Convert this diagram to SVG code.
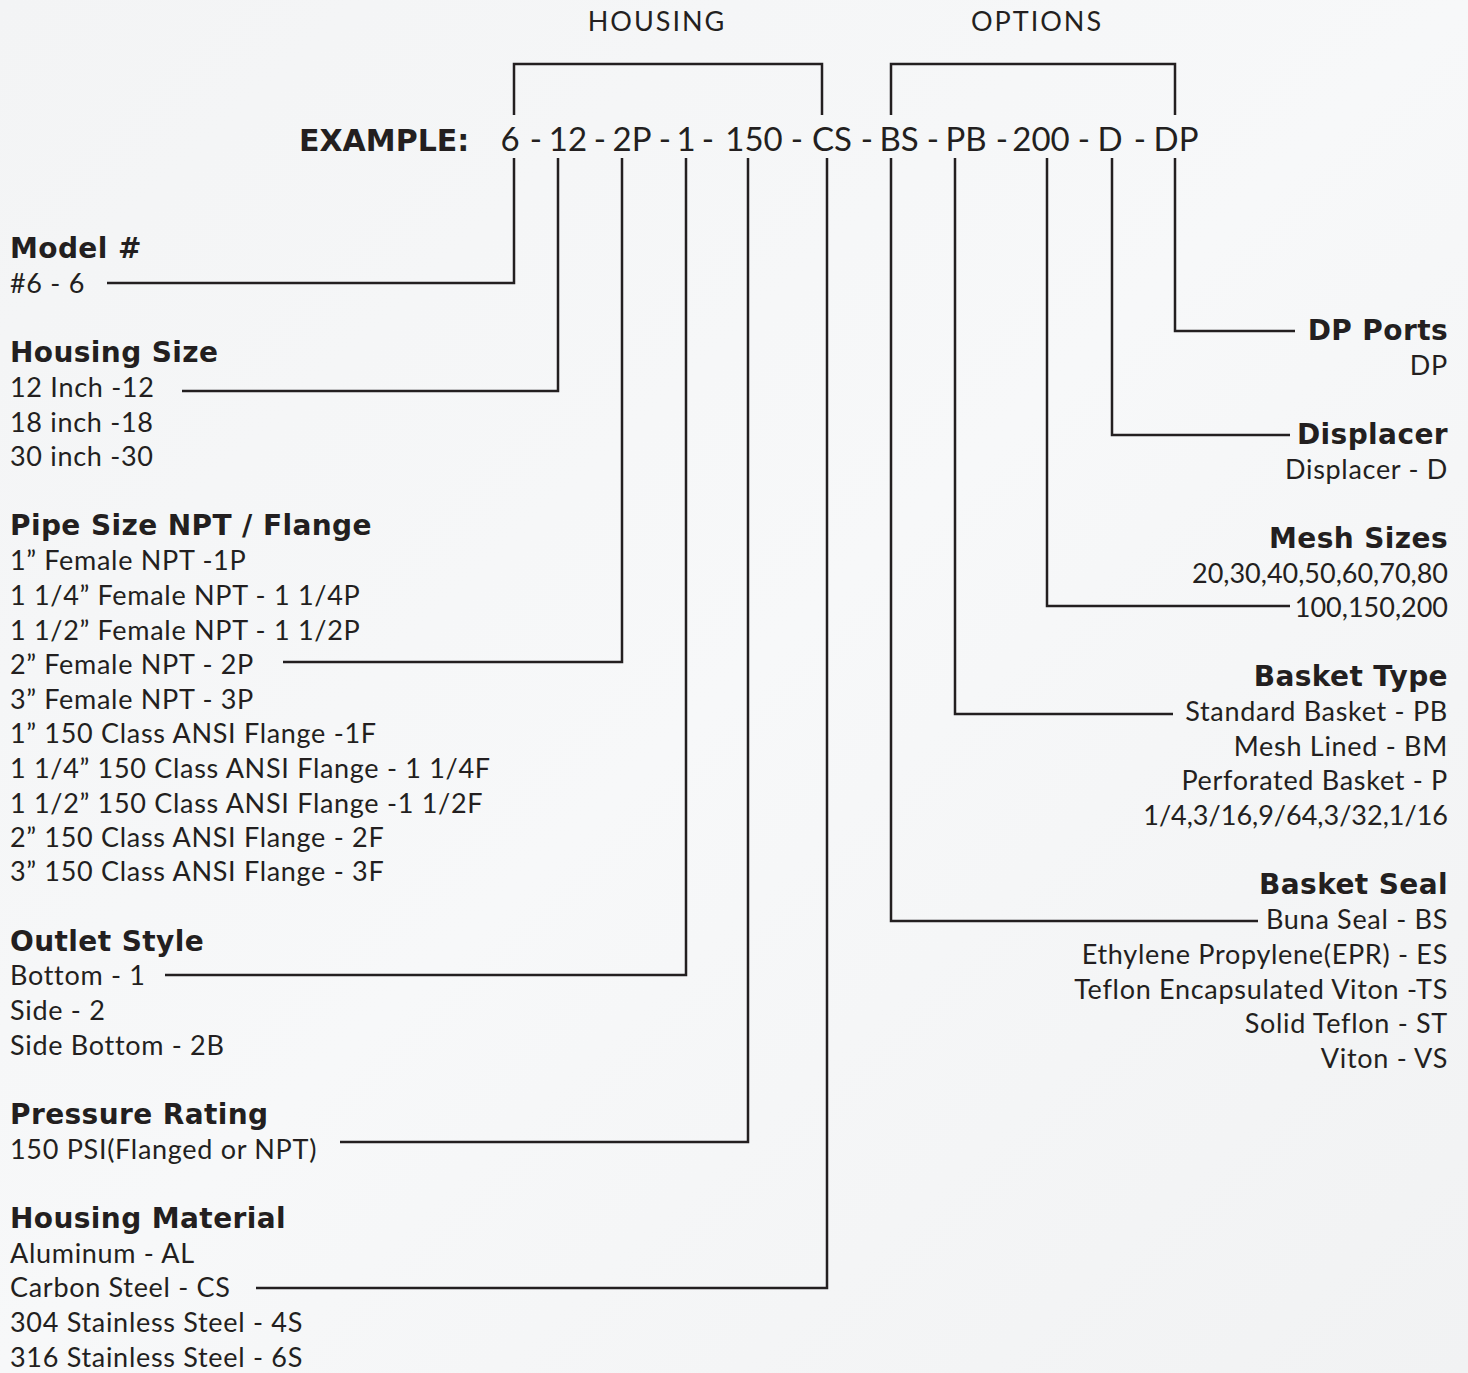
<svg xmlns="http://www.w3.org/2000/svg" width="1468" height="1373" viewBox="0 0 1468 1373">
<defs>
<style>
text{font-family:Lato,"Open Sans","Liberation Sans",sans-serif;fill:#231f20;}
.h{font-family:"DejaVu Sans","Liberation Sans",sans-serif;font-size:28px;font-weight:bold;letter-spacing:0.4px;}
.b{font-size:27px;letter-spacing:0.7px;}
.n{letter-spacing:0px;}
.r{text-anchor:end;}
.t{font-size:27px;letter-spacing:2px;text-anchor:middle;}
.ln{fill:none;stroke:#231f20;stroke-width:2.5;}
</style>
<linearGradient id="bg" x1="0" y1="0" x2="1" y2="1">
<stop offset="0" stop-color="#f3f4f5"/>
<stop offset="0.5" stop-color="#f7f8f9"/>
<stop offset="1" stop-color="#f1f2f3"/>
</linearGradient>
</defs>
<rect width="1468" height="1373" fill="url(#bg)"/>

<g id="title">
<text class="t" x="657" y="31">HOUSING</text>
<text class="t" x="1037" y="31">OPTIONS</text>
<text x="299" y="151" style="font-family:'DejaVu Sans','Liberation Sans',sans-serif;font-size:30px;font-weight:bold">EXAMPLE:</text>
<text style="font-size:33px;text-anchor:middle"><tspan x="510" y="151">6</tspan><tspan x="536" y="151">-</tspan><tspan x="568" y="151">12</tspan><tspan x="600" y="151">-</tspan><tspan x="632" y="151">2P</tspan><tspan x="665" y="151">-</tspan><tspan x="686" y="151">1</tspan><tspan x="708" y="151">-</tspan><tspan x="754" y="151">150</tspan><tspan x="797" y="151">-</tspan><tspan x="832" y="151">CS</tspan><tspan x="867" y="151">-</tspan><tspan x="899" y="151">BS</tspan><tspan x="933" y="151">-</tspan><tspan x="966" y="151">PB</tspan><tspan x="1002" y="151">-</tspan><tspan x="1041" y="151">200</tspan><tspan x="1084" y="151">-</tspan><tspan x="1110" y="151">D</tspan><tspan x="1140" y="151">-</tspan><tspan x="1176" y="151">DP</tspan></text>
</g>

<g id="connectors">
<path class="ln" d="M514 115V64H822V115"/>
<path class="ln" d="M891 115V64H1175V115"/>
<path class="ln" d="M514 158V283H107"/>
<path class="ln" d="M558 158V391H182"/>
<path class="ln" d="M622 158V662H283"/>
<path class="ln" d="M686 158V975H165"/>
<path class="ln" d="M748 158V1142H340"/>
<path class="ln" d="M827 158V1288H256"/>
<path class="ln" d="M891 158V921H1258"/>
<path class="ln" d="M955 158V714H1173"/>
<path class="ln" d="M1047 158V606H1290"/>
<path class="ln" d="M1112 158V435H1290"/>
<path class="ln" d="M1175 158V331H1295"/>
</g>

<g id="model">
<text class="h" x="10" y="258">Model #</text>
<text class="b" x="10" y="293">#6 - 6</text>
</g>
<g id="housing-size">
<text class="h" x="10" y="362">Housing Size</text>
<text class="b" x="10" y="397">12 Inch -12</text>
<text class="b" x="10" y="432">18 inch -18</text>
<text class="b" x="10" y="466">30 inch -30</text>
</g>
<g id="pipe-size">
<text class="h" x="10" y="535">Pipe Size NPT / Flange</text>
<text class="b" x="10" y="570">1” Female NPT -1P</text>
<text class="b" x="10" y="605">1 1/4” Female NPT - 1 1/4P</text>
<text class="b" x="10" y="640">1 1/2” Female NPT - 1 1/2P</text>
<text class="b" x="10" y="674">2” Female NPT - 2P</text>
<text class="b" x="10" y="709">3” Female NPT - 3P</text>
<text class="b" x="10" y="743">1” 150 Class ANSI Flange -1F</text>
<text class="b" x="10" y="778">1 1/4” 150 Class ANSI Flange - 1 1/4F</text>
<text class="b" x="10" y="813">1 1/2” 150 Class ANSI Flange -1 1/2F</text>
<text class="b" x="10" y="847">2” 150 Class ANSI Flange - 2F</text>
<text class="b" x="10" y="881">3” 150 Class ANSI Flange - 3F</text>
</g>
<g id="outlet-style">
<text class="h" x="10" y="951">Outlet Style</text>
<text class="b" x="10" y="985">Bottom - 1</text>
<text class="b" x="10" y="1020">Side - 2</text>
<text class="b" x="10" y="1055">Side Bottom - 2B</text>
</g>
<g id="pressure-rating">
<text class="h" x="10" y="1124">Pressure Rating</text>
<text class="b" x="10" y="1159">150 PSI(Flanged or NPT)</text>
</g>
<g id="housing-material">
<text class="h" x="10" y="1228">Housing Material</text>
<text class="b" x="10" y="1263">Aluminum - AL</text>
<text class="b" x="10" y="1297">Carbon Steel - CS</text>
<text class="b" x="10" y="1332">304 Stainless Steel - 4S</text>
<text class="b" x="10" y="1367">316 Stainless Steel - 6S</text>
</g>

<g id="dp-ports">
<text class="h r" x="1448" y="340">DP Ports</text>
<text class="b r" x="1448" y="375">DP</text>
</g>
<g id="displacer">
<text class="h r" x="1448" y="444">Displacer</text>
<text class="b r" x="1448" y="479">Displacer - D</text>
</g>
<g id="mesh-sizes">
<text class="h r" x="1448" y="548">Mesh Sizes</text>
<text class="b n r" x="1448" y="583">20,30,40,50,60,70,80</text>
<text class="b n r" x="1448" y="617">100,150,200</text>
</g>
<g id="basket-type">
<text class="h r" x="1448" y="686">Basket Type</text>
<text class="b r" x="1448" y="721">Standard Basket - PB</text>
<text class="b r" x="1448" y="756">Mesh Lined - BM</text>
<text class="b r" x="1448" y="790">Perforated Basket - P</text>
<text class="b n r" x="1448" y="825">1/4,3/16,9/64,3/32,1/16</text>
</g>
<g id="basket-seal">
<text class="h r" x="1448" y="894">Basket Seal</text>
<text class="b r" x="1448" y="929">Buna Seal - BS</text>
<text class="b r" x="1448" y="964">Ethylene Propylene(EPR) - ES</text>
<text class="b r" x="1448" y="999">Teflon Encapsulated Viton -TS</text>
<text class="b r" x="1448" y="1033">Solid Teflon - ST</text>
<text class="b r" x="1448" y="1068">Viton - VS</text>
</g>
</svg>
